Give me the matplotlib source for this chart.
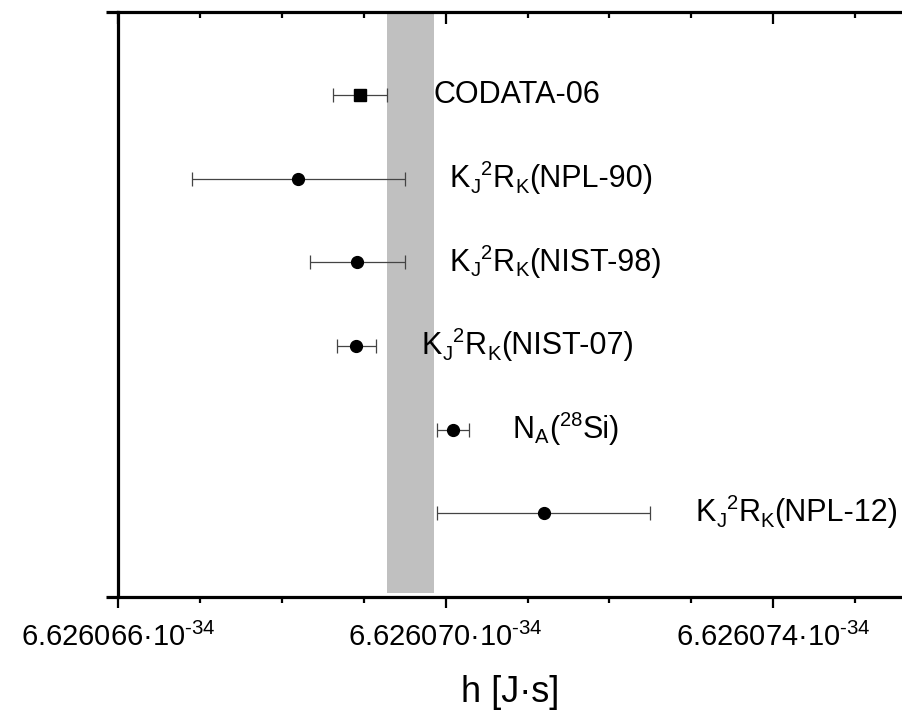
import matplotlib
matplotlib.use("Agg")
import matplotlib.pyplot as plt
from matplotlib.ticker import FixedLocator, FuncFormatter

plt.rcParams["font.family"] = ["Liberation Sans", "DejaVu Sans"]
plt.rcParams["mathtext.fontset"] = "custom"
plt.rcParams["mathtext.rm"] = "Liberation Sans"
plt.rcParams["mathtext.it"] = "Liberation Sans"
plt.rcParams["mathtext.bf"] = "Liberation Sans:bold"

# Planck constant determinations, in units of 1e-34 J*s.
# Each label is a list of (text, position) pieces: n = normal, b = subscript, p = superscript
labels = [
    [("CODATA-06", "n")],
    [("K", "n"), ("J", "b"), ("2", "p"), ("R", "n"), ("K", "b"), ("(NPL-90)", "n")],
    [("K", "n"), ("J", "b"), ("2", "p"), ("R", "n"), ("K", "b"), ("(NIST-98)", "n")],
    [("K", "n"), ("J", "b"), ("2", "p"), ("R", "n"), ("K", "b"), ("(NIST-07)", "n")],
    [("N", "n"), ("A", "b"), ("(", "n"), ("28", "p"), ("Si)", "n")],
    [("K", "n"), ("J", "b"), ("2", "p"), ("R", "n"), ("K", "b"), ("(NPL-12)", "n")],
]
h_values = [6.62606896, 6.6260682, 6.62606892, 6.62606891, 6.62607009, 6.6260712]
h_uncert = [0.00000033, 0.0000013, 0.00000058, 0.00000024, 0.00000020, 0.0000013]
markers = ["s", "o", "o", "o", "o", "o"]
rows = [6, 5, 4, 3, 2, 1]

# shaded reference band
band = (6.62606928, 6.62606986)

# label anchor (left edge of each text)
label_x = [6.62606985, 6.62607005, 6.62607005, 6.62606971, 6.62607082, 6.62607305]

major_ticks = [6.626066, 6.626070, 6.626074]
minor_ticks = [6.626067, 6.626068, 6.626069, 6.626071, 6.626072, 6.626073, 6.626075]

DPI = 100
fig = plt.figure(figsize=(9.02, 7.13), dpi=DPI)
ax = fig.add_axes([118 / 902, 1 - 596.7 / 713, 1 - 118 / 902, (596.7 - 11.5) / 713])

ax.fill_between(list(band), 0.04, 7, color="#c0c0c0", lw=0, zorder=1)

for h, u, m, y in zip(h_values, h_uncert, markers, rows):
    ax.errorbar(h, y, xerr=u, fmt=m, color="black", ms=8.5 if m == "o" else 8,
                ecolor="#444444", elinewidth=0.9, capsize=5, capthick=0.9, zorder=3)

ax.set_xlim(6.626066, 6.626066 + 784 / 81.9 * 1e-6)
ax.set_ylim(0, 7)

# labels drawn piece by piece so sub/superscripts sit like in typeset text
renderer = fig.canvas.get_renderer()
base_size = 22
small_size = 14.5
shift = {"n": -6.0, "b": -10.0, "p": 2.6}
for pieces, lx, y in zip(labels, label_x, rows):
    dx = 0.0
    for txt, kind in pieces:
        t = ax.annotate(txt, xy=(lx, y), xytext=(dx, shift[kind]),
                        textcoords="offset points", ha="left", va="baseline",
                        fontsize=base_size if kind == "n" else small_size)
        dx += t.get_window_extent(renderer).width * 72 / DPI + 0.3

ax.xaxis.set_major_locator(FixedLocator(major_ticks))
ax.xaxis.set_minor_locator(FixedLocator(minor_ticks))
ax.xaxis.set_major_formatter(FuncFormatter(
    lambda v, p: "%.6f·10" % v + r"$^{\mathregular{\text{-}34}}$"))

ax.yaxis.set_major_locator(FixedLocator([0, 7]))
ax.yaxis.set_minor_locator(FixedLocator([]))
ax.set_yticklabels([])

for side in ("left", "top", "bottom"):
    ax.spines[side].set_linewidth(2.3)
ax.spines["right"].set_visible(False)

ax.tick_params(axis="x", which="major", direction="out", length=8, width=1.6,
               labelsize=21, pad=11)
ax.tick_params(axis="x", which="minor", direction="out", length=4, width=1.6)
ax.tick_params(axis="x", which="both", top=True)
ax.tick_params(axis="y", which="major", direction="out", length=9, width=2.3,
               left=True, right=False)

# top axis ticks point into the plot
for t in ax.xaxis.get_major_ticks():
    t.tick2line.set_marker(3)
    t.tick2line.set_markersize(12 * 0.72)
for t in ax.xaxis.get_minor_ticks():
    t.tick2line.set_marker(3)
    t.tick2line.set_markersize(6 * 0.72)

ax.set_xlabel("h [J·s]", fontsize=26, labelpad=16)

fig.savefig("out.png", dpi=DPI)
